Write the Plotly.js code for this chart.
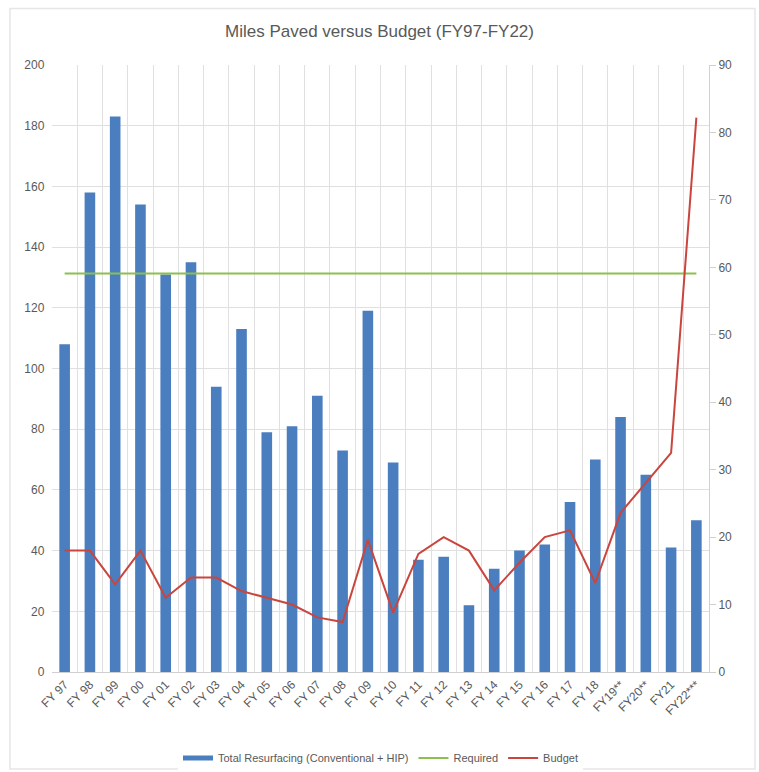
<!DOCTYPE html>
<html>
<head>
<meta charset="utf-8">
<script src="https://cdn.plot.ly/plotly-3.0.1.min.js"></script>
<style>html,body{margin:0;padding:0;background:#fff;}#chart{width:759px;height:772px;}</style>
</head>
<body>
<div id="chart"></div>
<script>
const categories = ["FY 97","FY 98","FY 99","FY 00","FY 01","FY 02","FY 03","FY 04","FY 05","FY 06","FY 07","FY 08","FY 09","FY 10","FY 11","FY 12","FY 13","FY 14","FY 15","FY 16","FY 17","FY 18","FY19**","FY20**","FY21","FY22***"];
const totalResurfacing = [108,158,183,154,131,135,94,113,79,81,91,73,119,69,37,38,22,34,40,42,56,70,84,65,41,50];
const required = [59.1,59.1,59.1,59.1,59.1,59.1,59.1,59.1,59.1,59.1,59.1,59.1,59.1,59.1,59.1,59.1,59.1,59.1,59.1,59.1,59.1,59.1,59.1,59.1,59.1,59.1];
const budget = [18,18,13,18,11,14,14,12,11,10,8.1,7.4,19.6,8.8,17.5,20,18,12.1,16.2,20,21,13.2,23.6,28,32.5,82.2];

const fontFam = '"Liberation Sans", Arial, sans-serif';
const txt = '#595959';
const barColor = '#4a7ebf';

const data = [
  {type:'bar', x:categories, y:totalResurfacing, name:'Total Resurfacing (Conventional + HIP)',
   marker:{color:barColor}, yaxis:'y', showlegend:false, legendgroup:'bar'},
  {type:'scatter', mode:'lines', x:[null], y:[null], name:'Total Resurfacing (Conventional + HIP)',
   line:{color:barColor, width:5}, yaxis:'y', legendgroup:'bar'},
  {type:'scatter', mode:'lines', x:categories, y:required, name:'Required',
   line:{color:'#8cbf4f', width:2}, yaxis:'y2'},
  {type:'scatter', mode:'lines', x:categories, y:budget, name:'Budget',
   line:{color:'#c9453e', width:2}, yaxis:'y2'}
];

const layout = {
  width:759, height:772,
  margin:{l:52, r:50, t:65, b:100},
  paper_bgcolor:'#fff', plot_bgcolor:'#fff',
  font:{family:fontFam, size:12, color:txt},
  title:{text:'Miles Paved versus Budget (FY97-FY22)', x:0.5, xanchor:'center', y:0.96, yanchor:'middle',
         font:{family:fontFam, size:17, color:txt}},
  bargap:0.58,
  showlegend:true,
  legend:{orientation:'h', x:0.5, xanchor:'center', yref:'container', y:0.018, yanchor:'middle',
          font:{size:11, color:txt}, traceorder:'normal', itemwidth:30},
  xaxis:{type:'category', tickangle:-45, tickson:'boundaries', showgrid:true, gridcolor:'#e0e0e0',
         showline:true, linecolor:'#d0d0d0', ticks:'', tickfont:{size:12, color:txt}, zeroline:false,
         range:[-0.5,25.5], automargin:false},
  yaxis:{range:[0,200], dtick:20, showgrid:true, gridcolor:'#e0e0e0', zeroline:false, automargin:false,
         showline:false, ticks:'', tickfont:{size:12,color:txt}, ticksuffix:'  '},
  yaxis2:{range:[0,90], dtick:10, overlaying:'y', side:'right', showgrid:false, zeroline:false, automargin:false,
          showline:true, linecolor:'#d0d0d0', ticks:'outside', ticklen:6, tickcolor:'#d0d0d0',
          tickfont:{size:12,color:txt}},
  shapes:[{type:'rect', xref:'paper', yref:'paper', x0:-0.064, x1:1.07, y0:-0.16, y1:1.093,
           line:{color:'#e6e6e6', width:1.5}, fillcolor:'rgba(0,0,0,0)'}]
};

Plotly.newPlot('chart', data, layout, {displayModeBar:false, staticPlot:true});
</script>
</body>
</html>
